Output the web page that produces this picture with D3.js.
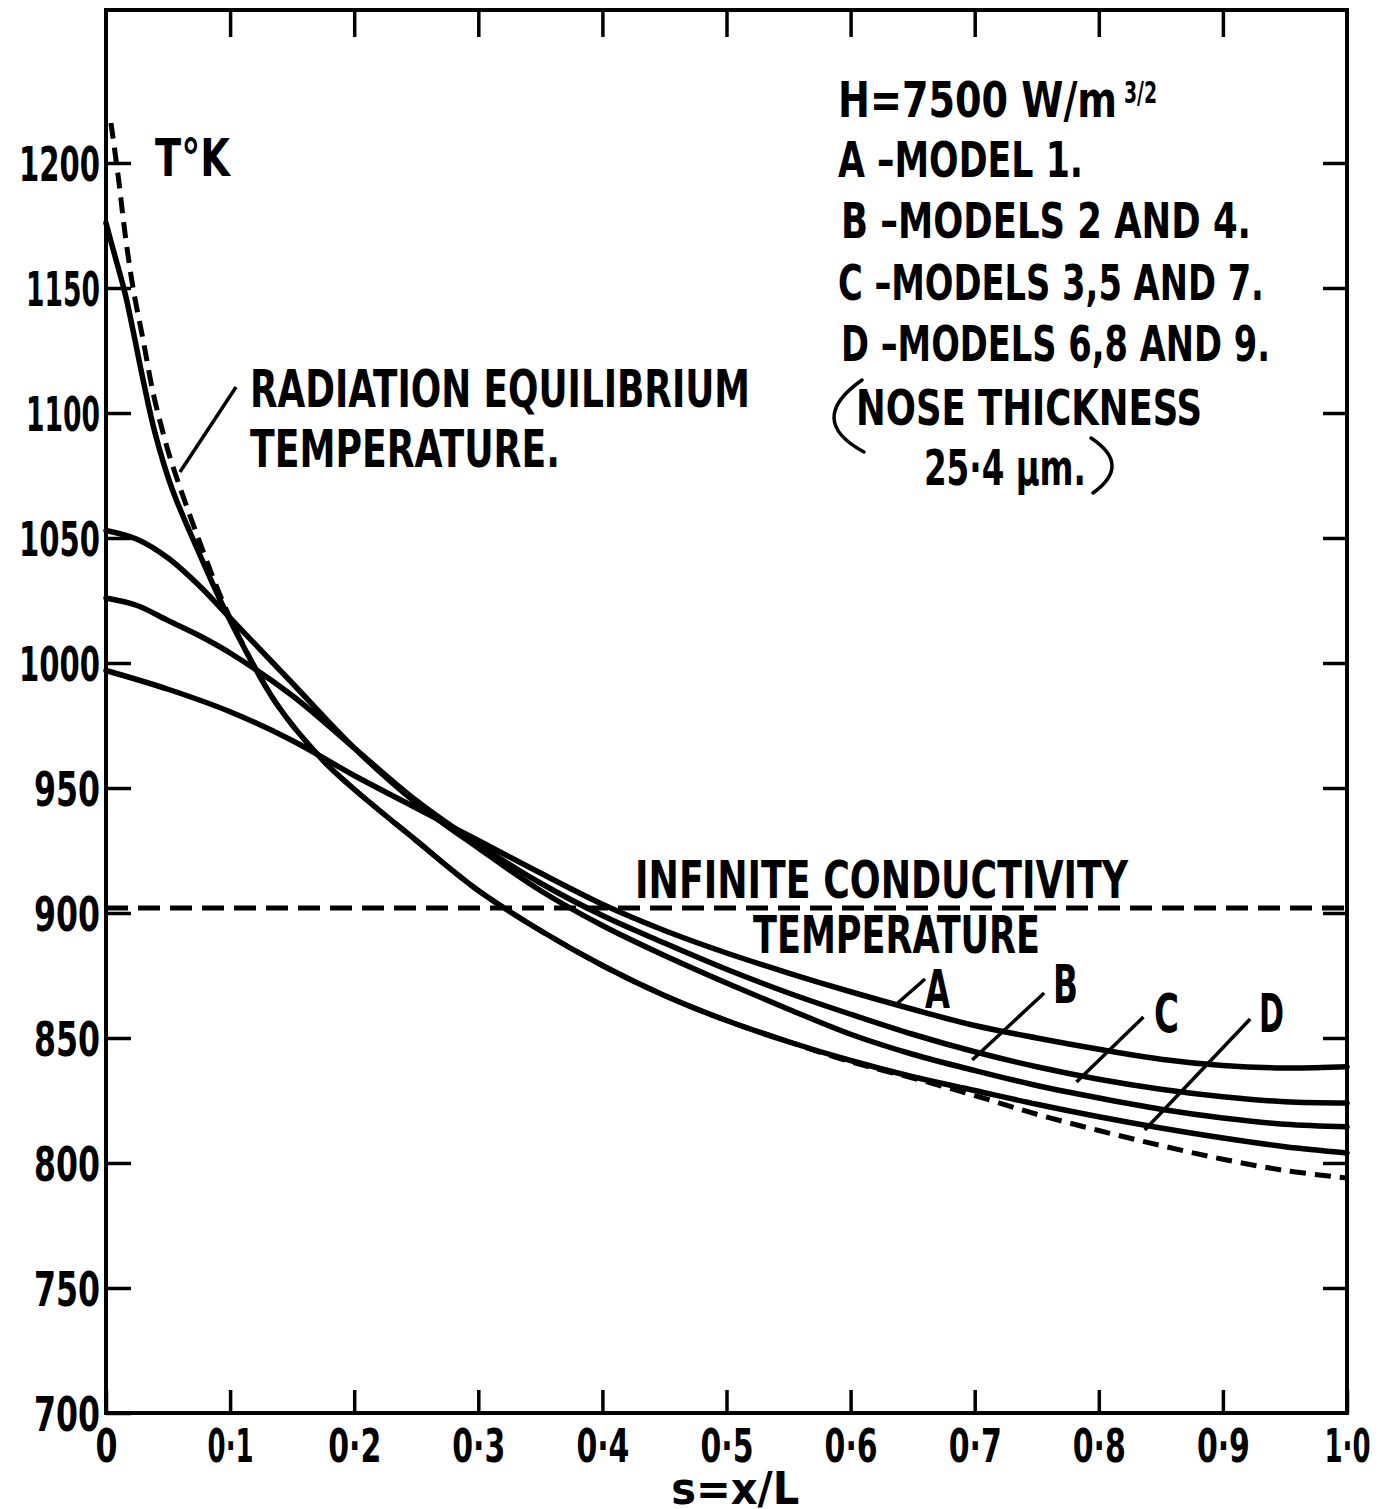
<!DOCTYPE html>
<html><head><meta charset="utf-8">
<script src="https://cdn.jsdelivr.net/npm/d3@7"></script>
<style>
body{margin:0;background:#fff;}
svg text{font-family:"Liberation Sans Narrow","DejaVu Sans Condensed","Arial Narrow",sans-serif;font-weight:bold;fill:#000;}
</style></head><body>
<svg id="chart" width="1388" height="1509"></svg>
<script>
// ---------- data ----------
const yTicks = [700, 750, 800, 850, 900, 950, 1000, 1050, 1100, 1150, 1200];
const xTicks = [0, 0.1, 0.2, 0.3, 0.4, 0.5, 0.6, 0.7, 0.8, 0.9, 1.0];
const xTickLabels = ["0", "0·1", "0·2", "0·3", "0·4", "0·5", "0·6", "0·7", "0·8", "0·9", "1·0"];

const sA = [0, 0.05, 0.1, 0.15, 0.2, 0.25, 0.3, 0.35, 0.4, 0.45, 0.5, 0.55, 0.6, 0.65, 0.7, 0.75, 0.8, 0.85, 0.9, 0.95, 1.0];
const tA = [997, 989.5, 980.5, 969, 955, 942, 929, 916, 903.5, 893, 884, 876, 868.5, 861.5, 855, 850, 845.5, 841.5, 839, 838, 838.5];

const sB = [0, 0.025, 0.05, 0.075, 0.1, 0.15, 0.2, 0.25, 0.3, 0.35, 0.4, 0.45, 0.5, 0.55, 0.6, 0.65, 0.7, 0.75, 0.8, 0.85, 0.9, 0.95, 1.0];
const tB = [1026, 1023, 1017, 1011, 1004, 987, 966, 945, 927.5, 912, 899, 888, 877.5, 868, 859.5, 851.5, 844.5, 838.5, 833.5, 829.5, 826.5, 824.5, 824];

const sC = [0, 0.025, 0.05, 0.075, 0.1, 0.15, 0.2, 0.25, 0.3, 0.35, 0.4, 0.45, 0.5, 0.55, 0.6, 0.65, 0.7, 0.75, 0.8, 0.85, 0.9, 0.95, 1.0];
const tC = [1053, 1049.5, 1042, 1031, 1018, 992, 966, 944, 926, 909, 895, 883, 872, 861.5, 851.5, 843.5, 837, 831, 826, 821.5, 818, 815.5, 814.5];

const sD = [0, 0.006, 0.0153, 0.0218, 0.03, 0.0395, 0.053, 0.075, 0.1, 0.137, 0.175, 0.2, 0.25, 0.3, 0.35, 0.4, 0.45, 0.5, 0.55, 0.6, 0.65, 0.7, 0.75, 0.8, 0.85, 0.9, 0.95, 1.0];
const tD = [1176, 1165, 1148, 1133, 1113, 1092, 1070, 1044, 1017, 984, 961, 949.5, 929, 909, 893, 879, 867, 857, 848.5, 841, 834.5, 829, 823.5, 818.5, 814, 810, 806.5, 804];

const sRad = [0.004, 0.01, 0.0153, 0.0218, 0.03, 0.038, 0.046, 0.053, 0.075, 0.1, 0.137, 0.175, 0.2, 0.25, 0.3, 0.35, 0.4, 0.45, 0.5, 0.55, 0.6, 0.65, 0.7, 0.75, 0.8, 0.85, 0.9, 0.95, 1.0];
const tRad = [1216, 1194, 1172, 1150, 1129, 1108, 1092, 1080, 1049, 1018, 984, 961, 949.5, 929, 909, 893, 879, 867, 857, 848.5, 840.5, 834, 827, 819.5, 813, 807, 801.5, 797, 794];

const infiniteConductivityT = 902;

// ---------- layout ----------
const W = 1388, H = 1509;
const mLeft = 106, mRight = 1347, mTop = 10, mBottom = 1413;
const svg = d3.select("#chart");
svg.append("rect").attr("width", W).attr("height", H).attr("fill", "#fff");

const x = d3.scaleLinear().domain([0, 1]).range([mLeft, mRight]);
const y = d3.scaleLinear().domain([700, 1261.2]).range([mBottom, mTop]);

// width of a tick label in the condensed lettering of the original
const labelWidth = str => Array.from(str).reduce((w, ch) => w + (ch === "·" ? 9 : ch === "1" ? 15 : 22), 0);

function styleAxis(g) {
  g.select(".domain").remove();
  g.selectAll(".tick line").attr("stroke", "#000").attr("stroke-width", 3.5);
}
svg.append("g").attr("transform", `translate(${mLeft},0)`)
  .call(d3.axisLeft(y).tickValues(yTicks).tickSize(-25).tickPadding(6).tickFormat(d3.format("d")))
  .call(styleAxis)
  .selectAll("text").style("font-size", "48px").attr("dy", "0.36em")
  .attr("textLength", function () { return labelWidth(this.textContent); })
  .attr("lengthAdjust", "spacingAndGlyphs");
svg.append("g").attr("transform", `translate(${mRight},0)`)
  .call(d3.axisRight(y).tickValues(yTicks.slice(1)).tickSize(-24).tickFormat(""))
  .call(styleAxis);
svg.append("g").attr("transform", `translate(0,${mTop})`)
  .call(d3.axisTop(x).tickValues(xTicks.slice(1, -1)).tickSize(-27).tickFormat(""))
  .call(styleAxis);
svg.append("g").attr("transform", `translate(0,${mBottom})`)
  .call(d3.axisBottom(x).tickValues(xTicks).tickSize(-23).tickPadding(16).tickFormat((d, i) => xTickLabels[i]))
  .call(styleAxis)
  .selectAll("text").style("font-size", "47px")
  .attr("textLength", function () { return labelWidth(this.textContent); })
  .attr("lengthAdjust", "spacingAndGlyphs");

// frame
svg.append("rect").attr("x", mLeft).attr("y", mTop).attr("width", mRight - mLeft).attr("height", mBottom - mTop)
  .attr("fill", "none").attr("stroke", "#000").attr("stroke-width", 4);

// curves
const line = d3.line().x(d => x(d[0])).y(d => y(d[1])).curve(d3.curveCatmullRom.alpha(0.5));
const zip = (s, t) => s.map((v, i) => [v, t[i]]);

svg.append("line").attr("x1", x(0)).attr("x2", x(1))
  .attr("y1", y(infiniteConductivityT)).attr("y2", y(infiniteConductivityT))
  .attr("stroke", "#000").attr("stroke-width", 5).attr("stroke-dasharray", "22,10");

[[sA, tA], [sB, tB], [sC, tC], [sD, tD]].forEach(([s, t]) => {
  svg.append("path").attr("d", line(zip(s, t))).attr("fill", "none")
    .attr("stroke", "#000").attr("stroke-width", 5.5).attr("stroke-linecap", "round");
});
svg.append("path").attr("d", line(zip(sRad, tRad))).attr("fill", "none")
  .attr("stroke", "#000").attr("stroke-width", 5).attr("stroke-dasharray", "16,9");

// ---------- annotations (data coordinates) ----------
const leaders = [
  [[0.0596, 1076.4], [0.1048, 1110.4]],
  [[0.638, 864], [0.66, 873.6]],
  [[0.698, 841.2], [0.756, 868]],
  [[0.782, 832.4], [0.836, 858.4]],
  [[0.837, 813.2], [0.922, 857.6]]
];
leaders.forEach(l => {
  svg.append("line").attr("x1", x(l[0][0])).attr("y1", y(l[0][1]))
    .attr("x2", x(l[1][0])).attr("y2", y(l[1][1]))
    .attr("stroke", "#000").attr("stroke-width", 3.5);
});

// [text, s, T, fontSize, width]
const labels = [
  ["T°K", 0.0395, 1194.8, 52, 75],
  ["RADIATION  EQUILIBRIUM", 0.116, 1102.4, 52, 500],
  ["TEMPERATURE.", 0.116, 1078.4, 52, 310],
  ["INFINITE  CONDUCTIVITY", 0.4263, 906, 52, 493],
  ["TEMPERATURE", 0.5214, 884, 52, 287],
  ["A", 0.66, 862, 54, 25],
  ["B", 0.763, 864, 54, 25],
  ["C", 0.8445, 852.4, 54, 25],
  ["D", 0.929, 852.4, 54, 25],
  ["H=7500 W/m", 0.5899, 1218.4, 50, 279],
  ["A –MODEL 1.", 0.5899, 1194.4, 50, 245],
  ["B –MODELS 2 AND 4.", 0.5923, 1170, 50, 410],
  ["C –MODELS 3,5 AND 7.", 0.5898, 1145.2, 50, 426],
  ["D –MODELS 6,8 AND 9.", 0.5923, 1120.8, 50, 429],
  ["NOSE THICKNESS", 0.6044, 1095.2, 50, 346],
  ["25·4 μm.", 0.6591, 1071.2, 50, 162]
];
labels.forEach(([t, s, T, fs, w]) => {
  svg.append("text").attr("x", x(s)).attr("y", y(T)).style("font-size", fs + "px")
    .attr("textLength", w).attr("lengthAdjust", "spacingAndGlyphs").text(t);
});
// superscript 3/2
svg.append("text").attr("x", x(0.8203)).attr("y", y(1224)).style("font-size", "30px")
  .attr("textLength", 33).attr("lengthAdjust", "spacingAndGlyphs").text("3/2");

// thin parentheses around the nose-thickness note: [start, control, end]
const parens = [
  [[0.6092, 1113.2], [0.5633, 1097.2], [0.6108, 1084.4]],
  [[0.7937, 1090], [0.8268, 1079.2], [0.7953, 1068]]
];
parens.forEach(([p0, c, p1]) => {
  const p = d3.path();
  p.moveTo(x(p0[0]), y(p0[1]));
  p.quadraticCurveTo(x(c[0]), y(c[1]), x(p1[0]), y(p1[1]));
  svg.append("path").attr("d", p.toString()).attr("fill", "none")
    .attr("stroke", "#000").attr("stroke-width", 3.5).attr("stroke-linecap", "round");
});

// x-axis title
svg.append("text").attr("x", x(0.507)).attr("y", 1504).attr("text-anchor", "middle")
  .style("font-size", "44px").attr("textLength", 128).attr("lengthAdjust", "spacingAndGlyphs").text("s=x/L");
</script>
</body></html>
